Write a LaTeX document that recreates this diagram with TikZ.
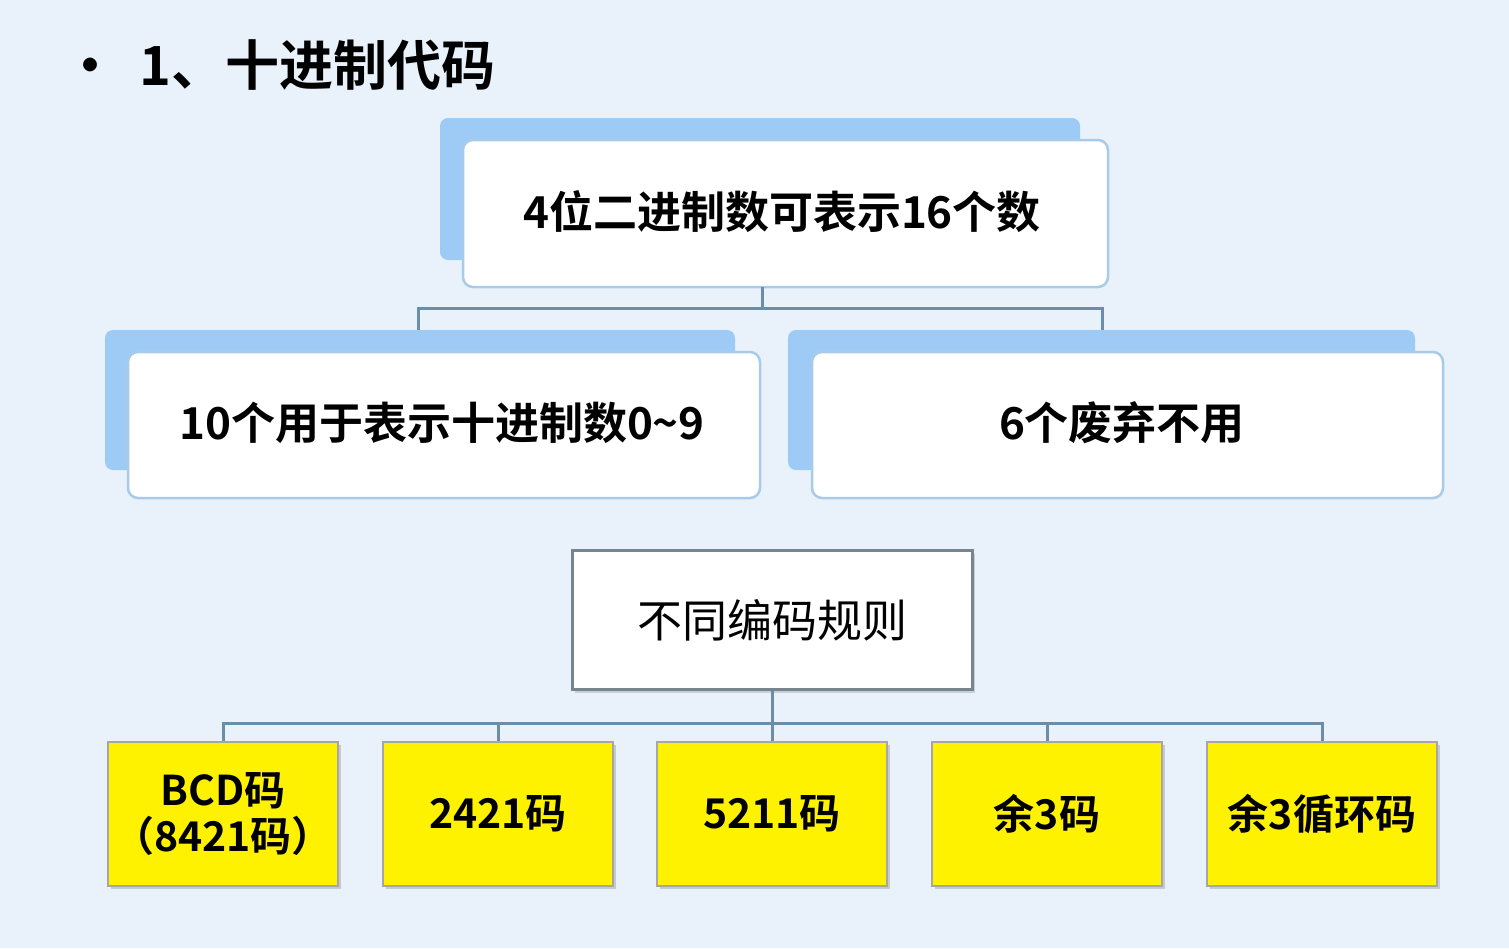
\documentclass[tikz,border=0pt]{standalone}
\usepackage{fontspec}
\setmainfont{Noto Sans CJK SC}
\newfontfamily\bcjk{Noto Sans CJK SC Bold}
\usetikzlibrary{shadows}
\definecolor{bg}{HTML}{E9F2FB}
\definecolor{tab}{HTML}{9ECBF5}
\definecolor{fb}{HTML}{A9CBEA}
\definecolor{ln}{HTML}{6A8DAA}
\tikzset{
 tabbox/.style={fill=tab,rounded corners=8pt},
 frontbox/.style={fill=white,draw=fb,line width=2.5pt,rounded corners=10pt},
 conn/.style={draw=ln,line width=3pt},
 lbl/.style={font=\bcjk\fontsize{44}{50}\selectfont,align=center},
 ylbl/.style={font=\bcjk\fontsize{41}{46}\selectfont,align=center},
 ybox/.style={fill=yellow,draw=gray!70,line width=2pt,drop shadow={opacity=0.35,shadow xshift=3pt,shadow yshift=-3pt}},
 wbox/.style={fill=white,draw=gray!60!ln,line width=3pt,drop shadow={opacity=0.3,shadow xshift=3pt,shadow yshift=-3pt}}
}
\begin{document}
\begin{tikzpicture}[x=1pt,y=-1pt]
\fill[bg] (0,0) rectangle (1509,948);
\useasboundingbox (0,0) rectangle (1509,948);
\node[font=\bcjk\fontsize{54}{60}\selectfont,anchor=west] (title) at (60,65) {•\hspace{22pt}1、十进制代码};
% top
\fill[tabbox] (440,118) rectangle (1080,260);
\draw[frontbox] (463,140) rectangle (1108,287);
\node[lbl] (top) at (782,212) {4位二进制数可表示16个数};
\coordinate (topb) at (762,287);
% left
\fill[tabbox] (105,330) rectangle (735,470);
\draw[frontbox] (128,352) rectangle (760,498);
\node[lbl] (left) at (442,423) {10个用于表示十进制数0\textasciitilde9};
% right
\fill[tabbox] (788,330) rectangle (1415,470);
\draw[frontbox] (812,352) rectangle (1443,498);
\node[lbl] (right) at (1122,423) {6个废弃不用};
\coordinate (lt) at (418,330);
\coordinate (rt) at (1102,330);
\draw[conn] (topb) -- ++(0,21) -| (lt);
\draw[conn] (topb) ++(0,21) -| (rt);
% middle
\node[wbox,minimum width=400pt,minimum height=139pt,font=\fontsize{45}{50}\selectfont] (mid) at (772,620) {不同编码规则};
% yellow
\foreach \n/\x/\t in {a/223/{BCD码\\（8421码）},b/498/2421码,c/772/5211码,d/1047/余3码,e/1322/余3循环码}{
 \node[ybox,ylbl,minimum width=230pt,minimum height=144pt,inner sep=0pt] (\n) at (\x,814) {\t};
 \draw[conn] (mid.south) -- ++(0,32) -| (\n.north);
}
\end{tikzpicture}
\end{document}
